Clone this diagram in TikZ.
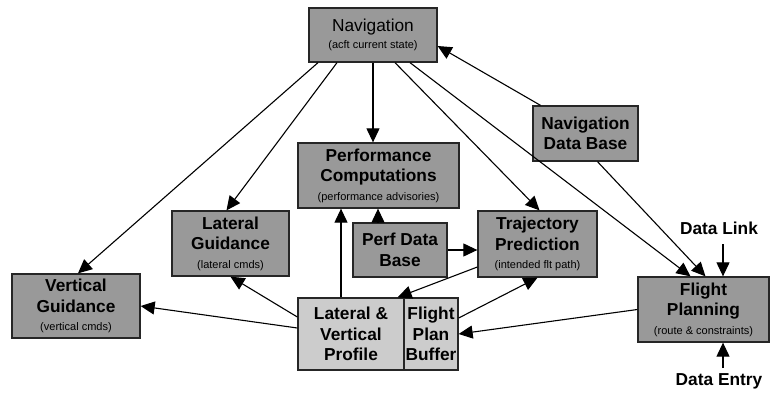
\documentclass[tikz,border=0pt]{standalone}
\usepackage{fontspec}
\setmainfont{Liberation Sans}
\usetikzlibrary{arrows.meta,calc}
\definecolor{boxgray}{gray}{0.6}
\definecolor{lightbox}{gray}{0.8}
\newcommand{\subtxt}[1]{\\[-2pt]{\mdseries\fontsize{11}{13}\selectfont #1}}
\tikzset{
  box/.style={draw=black!85, line width=1.3pt, fill=boxgray, align=center, inner sep=0pt,
    font=\bfseries\fontsize{17.3}{20.5}\selectfont},
  lbox/.style={box, fill=lightbox},
  lbl/.style={font=\bfseries\fontsize{17.3}{20.5}\selectfont, inner sep=0pt},
  arr/.style={line width=1.1pt, -{Triangle[length=14pt,width=13pt]}}
}
\begin{document}
\begin{tikzpicture}[x=1pt,y=-1pt]
\useasboundingbox (0,0) rectangle (771,394);
\node[box, minimum width=128pt, minimum height=54pt] (nav) at (373,35)
  {\mdseries Navigation\\[-3pt]{\mdseries\fontsize{11}{13}\selectfont (acft current state)}};
\node[box, minimum width=161pt, minimum height=65pt] (pc) at (378.5,175.5)
  {Performance\\Computations\subtxt{(performance advisories)}};
\node[box, minimum width=94pt, minimum height=54pt] (pdb) at (400,250)
  {Perf Data\\Base};
\node[box, minimum width=119pt, minimum height=66pt] (traj) at (537.5,244)
  {Trajectory\\Prediction\subtxt{(intended flt path)}};
\node[box, minimum width=117pt, minimum height=65pt] (latg) at (230.5,243.5)
  {Lateral\\Guidance\subtxt{(lateral cmds)}};
\node[box, minimum width=128pt, minimum height=64pt] (vg) at (76,306)
  {Vertical\\Guidance\subtxt{(vertical cmds)}};
\node[lbox, minimum width=106pt, minimum height=72pt] (prof) at (351,334)
  {Lateral \&\\Vertical\\Profile};
\node[lbox, minimum width=54pt, minimum height=72pt] (buf) at (431,334)
  {Flight\\Plan\\Buffer};
\node[box, minimum width=105pt, minimum height=55pt] (ndb) at (585.5,133.5)
  {Navigation\\Data Base};
\node[box, minimum width=131pt, minimum height=65pt] (fp) at (703.5,309.5)
  {Flight\\Planning\subtxt{(route \& constraints)}};
\node[lbl] (dl) at (719,228) {Data Link};
\node[lbl] (de) at (719,381) {Data Entry};
\coordinate (dlc) at (723,244);
\coordinate (dec) at (723,368);

\draw[arr] ([xshift=-55pt]nav.south) -- ([xshift=2pt]vg.north);
\draw[arr] ([xshift=-36pt]nav.south) -- ([xshift=-4pt]latg.north);
\draw[arr] (nav.south) -- (nav.south |- pc.north);
\draw[arr] ([xshift=22pt]nav.south) -- ([xshift=2pt]traj.north);
\draw[arr] ([xshift=37pt]nav.south) -- ([xshift=-13pt]fp.north);
\draw[arr] ([xshift=-45pt]ndb.north) -- ([yshift=-11pt]nav.east);
\draw[arr] ([xshift=12pt]ndb.south) -- ([xshift=2pt]fp.north);
\draw[arr] (dlc) -- (dlc |- fp.north);
\draw[arr] (dec) -- (dec |- fp.south);
\draw[arr] ([xshift=-22pt]pdb.north) -- ([xshift=-22pt]pdb.north |- pc.south);
\draw[arr] (pdb.east) -- (pdb.east -| traj.west);
\draw[arr] ([xshift=-10pt]prof.north) -- ([xshift=-10pt]prof.north |- pc.south);
\draw[arr] ([yshift=17pt]prof.west) -- (latg.south);
\draw[arr] ([yshift=6pt]prof.west) -- (vg.east);
\draw[arr] ([yshift=-23pt]traj.west) -- ([xshift=-7pt]prof.north east);
\draw[arr] ([yshift=16pt]buf.east) -- (traj.south);
\draw[arr] (fp.west) -- (buf.east);
\end{tikzpicture}
\end{document}
